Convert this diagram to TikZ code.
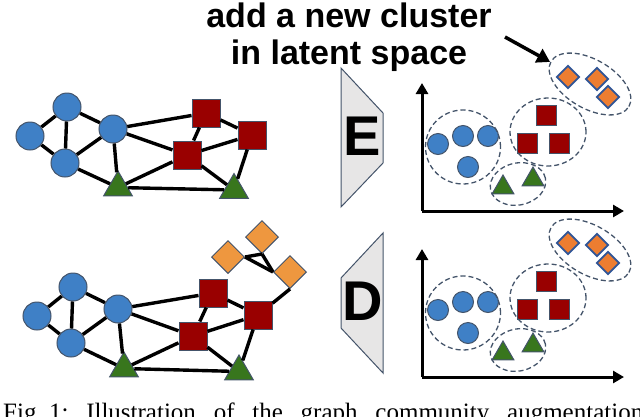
\documentclass[tikz,border=0pt]{standalone}
\usepackage{fontspec}
\setmainfont{Liberation Serif}
\setsansfont{Liberation Sans}
\usepackage{tikz}
\usetikzlibrary{arrows.meta, shapes.geometric}
\definecolor{nodeblue}{HTML}{3F80C6}
\definecolor{nodered}{HTML}{990000}
\definecolor{nodegreen}{HTML}{38761D}
\definecolor{nodeorange}{HTML}{EE973F}
\definecolor{latorange}{HTML}{ED7D31}
\definecolor{latedge}{HTML}{2F5597}
\definecolor{nodeedge}{HTML}{44546A}
\definecolor{coderfill}{HTML}{E7E6E6}
\tikzset{
  link/.style={line width=3.4pt},
  bnode/.style={circle, fill=nodeblue, draw=nodeedge, line width=1pt, inner sep=0pt, minimum size=28pt},
  rnode/.style={rectangle, fill=nodered, draw=nodeedge, line width=1pt, inner sep=0pt, minimum size=28pt},
  gnode/.style={regular polygon, regular polygon sides=3, fill=nodegreen, draw=nodeedge, line width=1pt, inner sep=0pt, minimum size=33pt},
  onode/.style={diamond, fill=nodeorange, draw=nodeedge, line width=1pt, inner sep=0pt, minimum size=33pt},
  lnode/.style={diamond, fill=latorange, draw=latedge, line width=1.8pt, inner sep=0pt, minimum size=23pt},
  cluster/.style={ellipse, draw=nodeedge, line width=1.3pt, dash pattern=on 5pt off 3pt, inner sep=0pt},
  axis/.style={line width=3pt, -{Triangle[length=11pt,width=12pt]}},
  coder/.style={fill=coderfill, draw=nodeedge, line width=1pt},
}
\begin{document}
\begin{tikzpicture}[x=1pt, y=-1pt]
\clip (0,0) rectangle (640,416);

% input graph
\node[bnode] (tc1) at (30,136) {};
\node[bnode] (tc2) at (67,107) {};
\node[bnode] (tc3) at (65,163) {};
\node[bnode] (tc4) at (113,129) {};
\node[rnode] (ts1) at (206,113) {};
\node[rnode] (ts2) at (252,135) {};
\node[rnode] (ts3) at (187,155) {};
\node[gnode] (tt1) at (118,187.5) {};
\node[gnode] (tt2) at (234,190) {};
\foreach \a/\b in {c1/c2, c1/c3, c2/c3, c2/c4, c3/c4, c4/t1, c3/t1, c4/s1, c4/s3,
                   s1/s3, s1/s2, s3/s2, s2/t2, t1/s3, t1/t2, s3/t2}
  \draw[link] (t\a) -- (t\b);

% decoded graph
\node[bnode] (bc1) at (37,316) {};
\node[bnode] (bc2) at (73,287) {};
\node[bnode] (bc3) at (71,343) {};
\node[bnode] (bc4) at (118,309) {};
\node[rnode] (bs1) at (213,293) {};
\node[rnode] (bs2) at (258,315) {};
\node[rnode] (bs3) at (193,336) {};
\node[gnode] (bt1) at (124,368.5) {};
\node[gnode] (bt2) at (239,371.5) {};
\node[onode] (bd1) at (228,257) {};
\node[onode] (bd2) at (262,237) {};
\node[onode] (bd3) at (290,272) {};
\foreach \a/\b in {c1/c2, c1/c3, c2/c3, c2/c4, c3/c4, c4/t1, c3/t1, c4/s1, c4/s3,
                   s1/s3, s1/s2, s3/s2, s2/t2, t1/s3, t1/t2, s3/t2}
  \draw[link] (b\a) -- (b\b);
\draw[link] (bd1.east) -- (bd2.south);
\draw[link] (bd1.east) -- (bd3.west);
\draw[link] (bd2.south) -- (bd3.west);
\draw[link] (bd3.south) -- (bs2);

% encoder / decoder
\draw[coder] (341,68) -- (383,113) -- (383,163) -- (341,207) -- cycle;
\node[font=\sffamily\bfseries\fontsize{56}{56}\selectfont] (enc) at (362,136) {E};
\draw[coder] (383,233) -- (341,278) -- (341,328) -- (383,373) -- cycle;
\node[font=\sffamily\bfseries\fontsize{56}{56}\selectfont] (dec) at (363,301) {D};

% latent spaces
\foreach \p/\dy in {u/0, l/166} {
  \begin{scope}[shift={(0,\dy)}]
    \coordinate (\p o) at (422,211);
    \coordinate (\p y) at (422,83);
    \coordinate (\p x) at (624,211);
    \draw[axis] (\p o) -- (\p y);
    \draw[axis] (\p o) -- (\p x);
    \node[bnode, minimum size=21pt] (\p c1) at (438,144) {};
    \node[bnode, minimum size=21pt] (\p c2) at (463,136) {};
    \node[bnode, minimum size=21pt] (\p c3) at (488,136) {};
    \node[bnode, minimum size=21pt] (\p c4) at (468,167) {};
    \node[rnode, minimum size=20pt] (\p s1) at (546,115) {};
    \node[rnode, minimum size=20pt] (\p s2) at (527,143) {};
    \node[rnode, minimum size=20pt] (\p s3) at (559,143) {};
    \node[gnode, minimum size=25pt] (\p t1) at (503,187.5) {};
    \node[gnode, minimum size=25pt] (\p t2) at (533,179.5) {};
    \node[lnode] (\p d1) at (568,77) {};
    \node[lnode] (\p d2) at (597,79) {};
    \node[lnode] (\p d3) at (608,97) {};
    \node[cluster, minimum width=75pt, minimum height=74pt] (\p bc) at (463,147) {};
    \node[cluster, minimum width=76pt, minimum height=68pt] (\p rc) at (548,132) {};
    \node[cluster, minimum width=56pt, minimum height=42pt, rotate=12] (\p gc) at (518,184) {};
    \node[cluster, minimum width=90pt, minimum height=49pt, rotate=-30] (\p oc) at (590,84) {};
  \end{scope}
}

% annotation
\node[anchor=north, inner sep=0pt, align=center,
      font=\sffamily\bfseries\fontsize{34}{37}\selectfont] (note) at (349,3)
  {add a new cluster\\in latent space};
\coordinate (tail) at (505,37);
\draw[line width=3.5pt, -{Triangle[length=13pt,width=15pt]}] (tail) -- (uoc);

% caption
\node[anchor=base west, inner sep=0pt, font=\fontsize{25}{25}\selectfont] (caption) at (3,420)
  {\hbox to 640pt{Fig.\ 1:\hfill Illustration\hfill of\hfill the\hfill graph\hfill community\hfill augmentation}};
\end{tikzpicture}
\end{document}
